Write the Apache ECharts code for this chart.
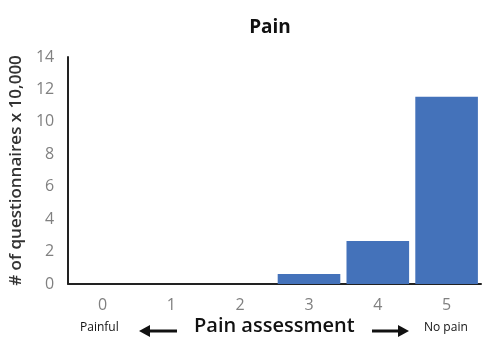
<!DOCTYPE html>
<html><head><meta charset="utf-8">
<script src="https://cdn.jsdelivr.net/npm/echarts@6/dist/echarts.min.js"></script>
<style>html,body{margin:0;padding:0;background:#fff}#c{width:485px;height:360px}</style>
</head><body><div id="c"></div>
<script>
const categories = ['0','1','2','3','4','5'];
const values = [0, 0, 0, 0.62, 2.65, 11.55];
const yTicks = [0, 2, 4, 6, 8, 10, 12, 14];
const titleText = 'Pain';
const yAxisName = '# of questionnaires x 10,000';
const xAxisName = 'Pain assessment';
const leftLabel = 'Painful';
const rightLabel = 'No pain';

const chart = echarts.init(document.getElementById('c'), null, {renderer:'canvas'});
const font = '"Open Sans", "Noto Sans", sans-serif';
chart.setOption({
  animation: false,
  title: {text: titleText, left: 265, top: 13, textAlign: 'center',
    textStyle: {fontFamily: font, fontSize: 19, fontWeight: 'bold', color: '#111'}},
  grid: {left: 67, right: 4, top: 57, bottom: 76, containLabel: false},
  xAxis: {type: 'category', data: categories,
    axisLine: {lineStyle: {color: '#222', width: 2}},
    axisTick: {show: false},
    axisLabel: {fontFamily: font, fontSize: 16, color: '#808080', margin: 13}},
  yAxis: {type: 'value', min: yTicks[0], max: yTicks[yTicks.length-1], interval: 2,
    name: yAxisName, nameLocation: 'middle', nameGap: 42, nameRotate: 90,
    nameTextStyle: {fontFamily: font, fontSize: 17, fontWeight: 600, color: '#333'},
    axisLine: {show: true, lineStyle: {color: '#222', width: 2}},
    axisTick: {show: false}, splitLine: {show: false},
    axisLabel: {fontFamily: font, fontSize: 16, color: '#808080', margin: 14}},
  series: [{type: 'bar', data: values, barCategoryGap: '9%',
    itemStyle: {color: '#4472BA'}}],
  graphic: [
    {type: 'text', left: 80, top: 322, style: {text: leftLabel, font: '12px ' + font, fill: '#111'}},
    {type: 'text', left: 424, top: 322, style: {text: rightLabel, font: '12px ' + font, fill: '#111'}},
    {type: 'text', left: 194, top: 316, style: {text: xAxisName, font: '600 20px ' + font, fill: '#111'}},
    {type: 'line', shape: {x1: 147, y1: 331, x2: 177, y2: 331}, style: {stroke: '#111', lineWidth: 3}},
    {type: 'polygon', shape: {points: [[139,331],[150,325],[150,337]]}, style: {fill: '#111'}},
    {type: 'line', shape: {x1: 372, y1: 331, x2: 401, y2: 331}, style: {stroke: '#111', lineWidth: 3}},
    {type: 'polygon', shape: {points: [[409,331],[398,325],[398,337]]}, style: {fill: '#111'}}
  ]
});
</script></body></html>
